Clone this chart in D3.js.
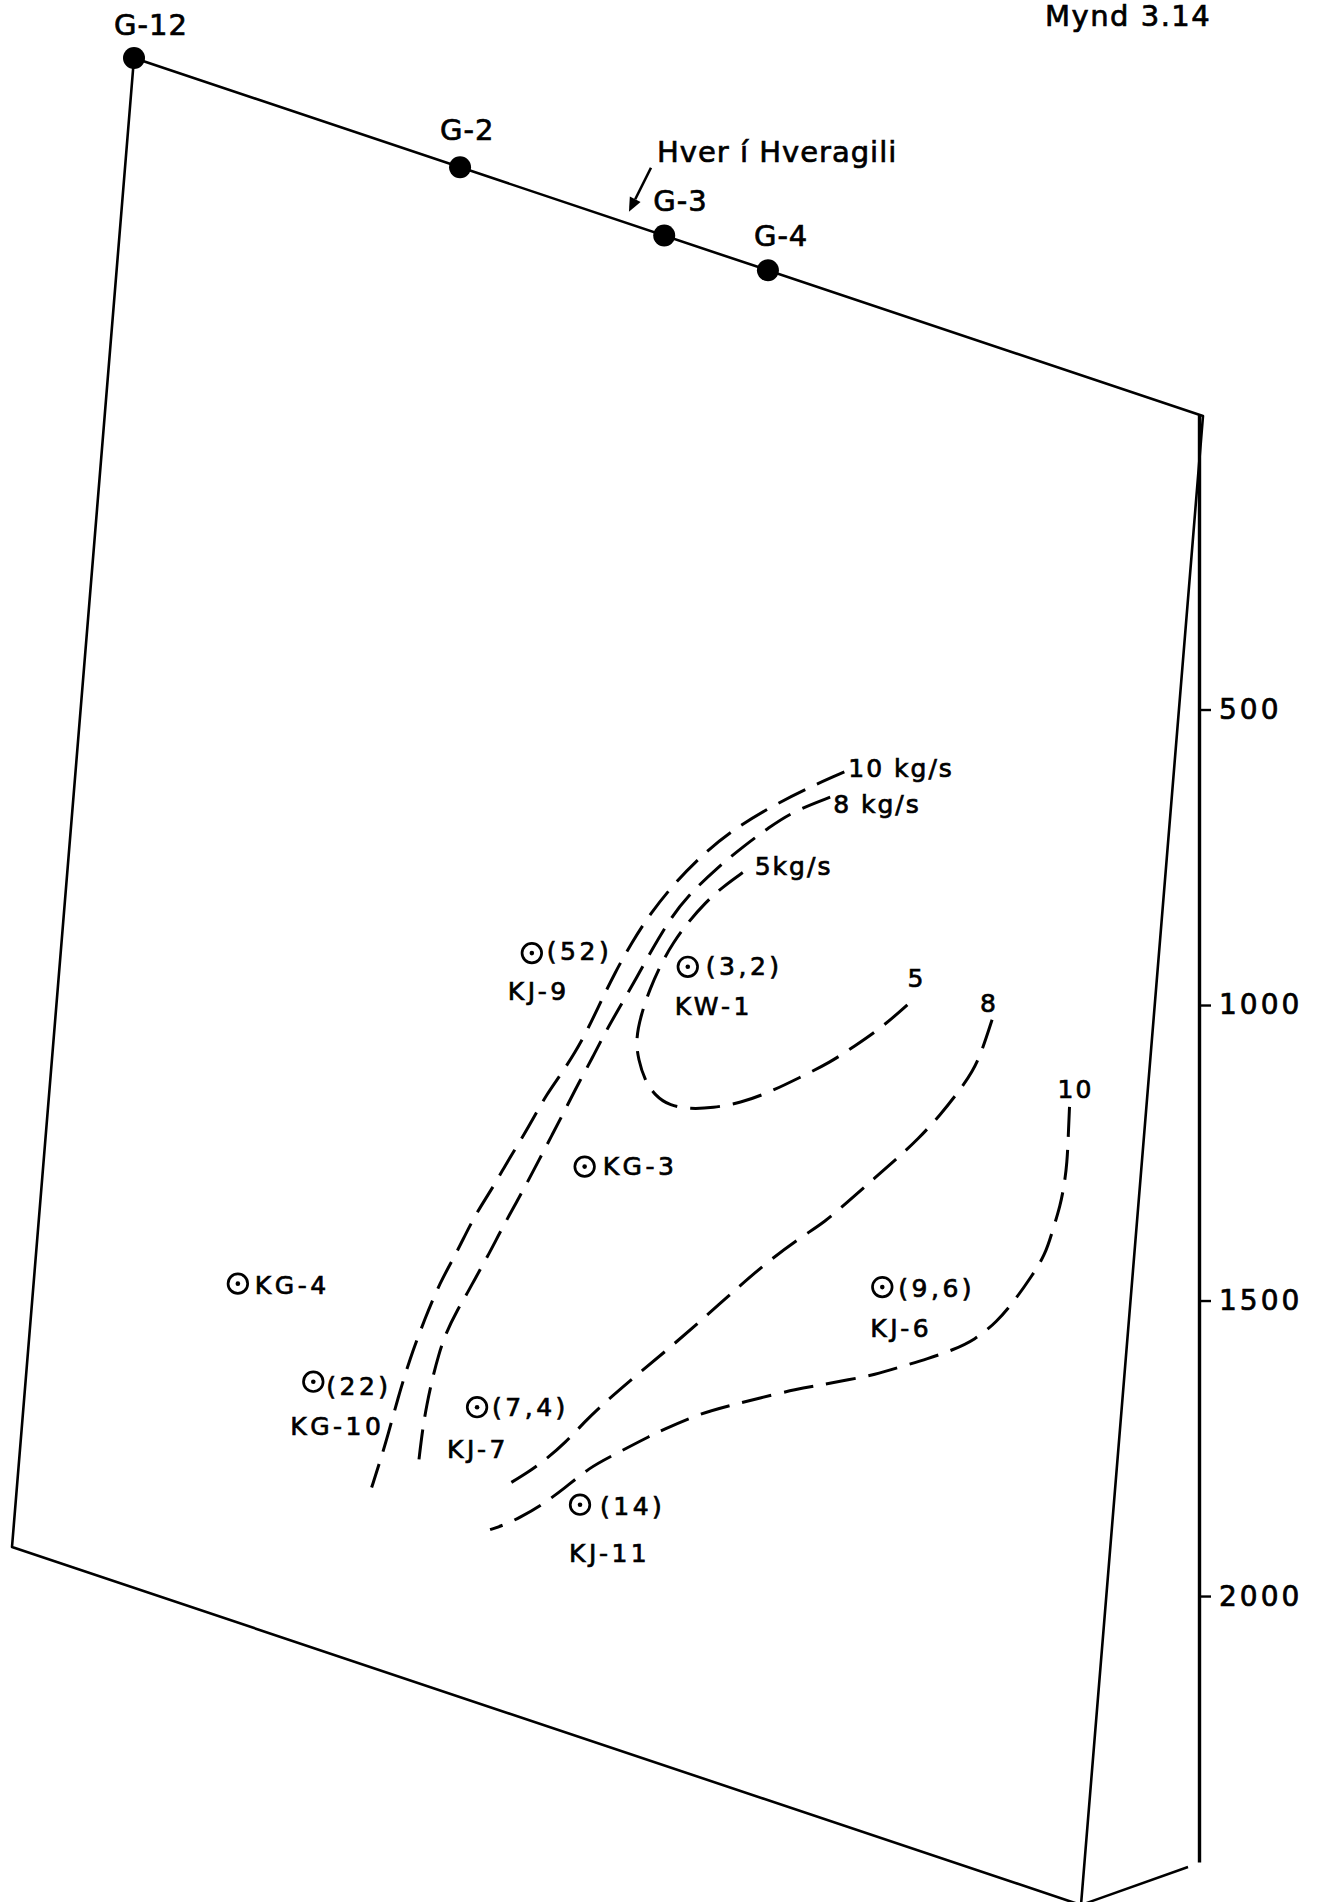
<!DOCTYPE html>
<html>
<head>
<meta charset="utf-8">
<script src="https://cdn.jsdelivr.net/npm/d3@7"></script>
<style>
  html, body { margin: 0; padding: 0; background: #fff; }
  svg { display: block; }
  text { font-family: "DejaVu Sans", sans-serif; fill: #000; stroke: #000; stroke-width: 0.7px; }
</style>
</head>
<body>
<svg id="chart" width="1322" height="1902"></svg>
<script>
// ---- Section data: distance along the profile (0–1000) and depth below surface (m) ----
const surfaceWells = ["G-12", "G-2", "G-3", "G-4"];
const surfaceDist  = [0, 305, 496, 593];

const springName = "Hver í Hveragili";
const springDist = 463;

const wellNames = ["KJ-9", "KW-1", "KG-3", "KG-4", "KG-10", "KJ-7", "KJ-11", "KJ-6"];
const wellDist  = [429, 572, 493, 186, 262, 413, 514, 773];
const wellDepth = [1245, 1182, 1565, 1946, 2065, 2017, 2120, 1599];
const wellFlow  = [52, 3.2, null, null, 22, 7.4, 14, 9.6];   // kg/s

const depthTicks = [500, 1000, 1500, 2000];

// Iso-flow lines (kg/s)
const iso10aDist  = [700,670,635,600,575,554,534,519,506,495,486,476,464,453,444,434,423,413,402,393,382,370,359,348,340,334,329,323];
const iso10aDepth = [778,821,876,939,996,1052,1115,1174,1232,1289,1337,1383,1429,1468,1508,1552,1596,1641,1684,1723,1780,1833,1900,1976,2048,2111,2156,2206];

const iso8aDist  = [689,656,635,615,591,566,552,538,526,514,502,492,481,471,461,451,441,431,421,412,402,395,388,379,374,370,367,365,364];
const iso8aDepth = [827,871,911,952,1005,1068,1115,1174,1229,1281,1333,1383,1433,1483,1531,1579,1627,1672,1718,1762,1806,1839,1868,1913,1953,1997,2041,2084,2135];

const iso5Dist  = [615,598,583,569,557,547,539,533,530,534,541,552,566,585,605,630,656,682,709,730,752,769,779];
const iso5Depth = [998,1032,1068,1109,1150,1194,1240,1286,1330,1361,1390,1411,1419,1413,1399,1376,1342,1302,1260,1220,1177,1138,1114];

const iso8bDist  = [853,846,839,829,813,794,778,758,737,716,694,663,628,590,556,527,512,496,479,464,446];
const iso8bDepth = [1102,1160,1198,1234,1286,1339,1378,1425,1474,1524,1564,1628,1711,1801,1877,1944,1982,2027,2066,2096,2128];

const iso10bDist  = [930,931,932,931,929,924,919,908,895,880,861,842,820,795,773,749,724,703,670,643,616,584,564,538,520,499,478,460,447,434];
const iso10bDepth = [1202,1248,1295,1333,1368,1412,1457,1500,1547,1593,1635,1663,1691,1720,1746,1769,1793,1812,1847,1876,1906,1952,1983,2025,2054,2101,2144,2174,2194,2210];

const isoLines = [
  { dist: iso10aDist, depth: iso10aDepth, startLabel: "10 kg/s", endLabel: null },
  { dist: iso8aDist,  depth: iso8aDepth,  startLabel: "8 kg/s",  endLabel: null },
  { dist: iso5Dist,   depth: iso5Depth,   startLabel: "5kg/s",   endLabel: "5" },
  { dist: iso8bDist,  depth: iso8bDepth,  startLabel: "8",       endLabel: null },
  { dist: iso10bDist, depth: iso10bDepth, startLabel: "10",      endLabel: null }
];

// ---- Layout ----
const svg = d3.select("#chart");

// oblique block face: along-profile axis and depth axis, each split into x/y components
const origin = [134, 58];
const alongX = d3.scaleLinear().domain([0, 1000]).range([0, 1069]);
const alongY = d3.scaleLinear().domain([0, 1000]).range([0, 358]);
const downX  = d3.scaleLinear().domain([0, 2500]).range([0, -122]);
const downY  = d3.scaleLinear().domain([0, 2500]).range([0, 1489]);
const proj = (u, d) => [origin[0] + alongX(u) + downX(d), origin[1] + alongY(u) + downY(d)];

// depth scale on the right
const depthScale = d3.scaleLinear().domain([0, 2450]).range([414, 1862]);
const axisX = 1199;

// label offsets (px) relative to their marks
const surfaceLabelOffset = [[-20, -23], [-20, -27], [-11, -25], [-14, -24]];
const wellValueOffset = [[15, 7], [18, 8], null, null, [13, 13], [15, 9], [20, 10], [16, 10]];
const wellNameOffset  = [[-24, 47], [-13, 48], [18, 8], [17, 10], [-23, 53], [-30, 51], [-11, 57], [-12, 50]];
const isoStartOffset = [[4, 5], [3, 16], [12, 2], [-12, -8], [-12, -9]];
const isoEndOffset   = [null, null, [-5, -13], null, null];

// ---- Block frame ----
const corners = [proj(0, 0), proj(1000, 0), proj(1000, 2500), proj(0, 2500)];
svg.append("path")
  .attr("d", d3.line()(corners) + "Z")
  .attr("fill", "none")
  .attr("stroke", "#000")
  .attr("stroke-width", 2.6)
  .attr("stroke-linejoin", "round");

// connector from the bottom-right corner back to the depth scale
svg.append("line")
  .attr("x1", corners[2][0]).attr("y1", corners[2][1])
  .attr("x2", axisX - 11).attr("y2", depthScale(2450) + 5)
  .attr("stroke", "#000").attr("stroke-width", 2.4);

// ---- Depth axis ----
const axisG = svg.append("g")
  .attr("transform", `translate(${axisX},0)`)
  .call(d3.axisRight(depthScale)
    .tickValues(depthTicks)
    .tickSize(12)
    .tickSizeOuter(0)
    .tickPadding(8)
    .tickFormat(d3.format("d")));
axisG.select(".domain").attr("stroke", "#000").attr("stroke-width", 3.4);
axisG.selectAll(".tick line").attr("stroke", "#000").attr("stroke-width", 2.4);
axisG.selectAll(".tick text")
  .attr("font-family", "DejaVu Sans, sans-serif")
  .attr("font-size", 28)
  .style("letter-spacing", "3px")
  .attr("fill", "#000");

// ---- Surface wells ----
surfaceWells.forEach((name, i) => {
  const [x, y] = proj(surfaceDist[i], 0);
  svg.append("circle").attr("cx", x).attr("cy", y).attr("r", 11).attr("fill", "#000");
  svg.append("text")
    .attr("x", x + surfaceLabelOffset[i][0])
    .attr("y", y + surfaceLabelOffset[i][1])
    .attr("font-size", 29)
    .style("letter-spacing", "1px")
    .text(name);
});

// hot spring pointer
{
  const p = proj(springDist, 0);
  const tip = [p[0], p[1] - 12];
  const tail = [tip[0] + 22, tip[1] - 44];
  const ang = Math.atan2(tip[1] - tail[1], tip[0] - tail[0]);
  const hl = 14, hw = 6;
  const base = [tip[0] - hl * Math.cos(ang), tip[1] - hl * Math.sin(ang)];
  svg.append("line")
    .attr("x1", tail[0]).attr("y1", tail[1])
    .attr("x2", base[0]).attr("y2", base[1])
    .attr("stroke", "#000").attr("stroke-width", 2.6);
  svg.append("path")
    .attr("d", d3.line()([
      tip,
      [base[0] + hw * Math.sin(ang), base[1] - hw * Math.cos(ang)],
      [base[0] - hw * Math.sin(ang), base[1] + hw * Math.cos(ang)]
    ]) + "Z")
    .attr("fill", "#000");
  svg.append("text")
    .attr("x", tip[0] + 28).attr("y", tip[1] - 50)
    .attr("font-size", 29)
    .style("letter-spacing", "1px")
    .text(springName);
}

// ---- Iso-flow lines ----
const lineGen = d3.line().curve(d3.curveBasis);
isoLines.forEach((iso, i) => {
  const pts = iso.dist.map((u, k) => proj(u, iso.depth[k]));
  svg.append("path")
    .attr("d", lineGen(pts))
    .attr("fill", "none")
    .attr("stroke", "#000")
    .attr("stroke-width", 3)
    .attr("stroke-dasharray", "30 13");
  const s = pts[0];
  svg.append("text")
    .attr("x", s[0] + isoStartOffset[i][0])
    .attr("y", s[1] + isoStartOffset[i][1])
    .attr("font-size", 25)
    .style("letter-spacing", "2px")
    .text(iso.startLabel);
  if (iso.endLabel) {
    const e = pts[pts.length - 1];
    svg.append("text")
      .attr("x", e[0] + isoEndOffset[i][0])
      .attr("y", e[1] + isoEndOffset[i][1])
      .attr("font-size", 25)
      .text(iso.endLabel);
  }
});

// ---- Wells in the section ----
const fmtFlow = v => String(v).replace(".", ",");
wellNames.forEach((name, i) => {
  const [x, y] = proj(wellDist[i], wellDepth[i]);
  svg.append("circle").attr("cx", x).attr("cy", y).attr("r", 9.8)
    .attr("fill", "none").attr("stroke", "#000").attr("stroke-width", 2.7);
  svg.append("circle").attr("cx", x).attr("cy", y).attr("r", 2.3).attr("fill", "#000");
  if (wellFlow[i] !== null) {
    svg.append("text")
      .attr("x", x + wellValueOffset[i][0])
      .attr("y", y + wellValueOffset[i][1])
      .attr("font-size", 25)
      .style("letter-spacing", "3.5px")
      .text(`(${fmtFlow(wellFlow[i])})`);
  }
  svg.append("text")
    .attr("x", x + wellNameOffset[i][0])
    .attr("y", y + wellNameOffset[i][1])
    .attr("font-size", 25)
    .style("letter-spacing", "3.5px")
    .text(name);
});

// ---- Figure number ----
svg.append("text")
  .attr("x", 1045).attr("y", 26)
  .attr("font-size", 29)
  .style("letter-spacing", "1.5px")
  .text("Mynd 3.14");
</script>
</body>
</html>
